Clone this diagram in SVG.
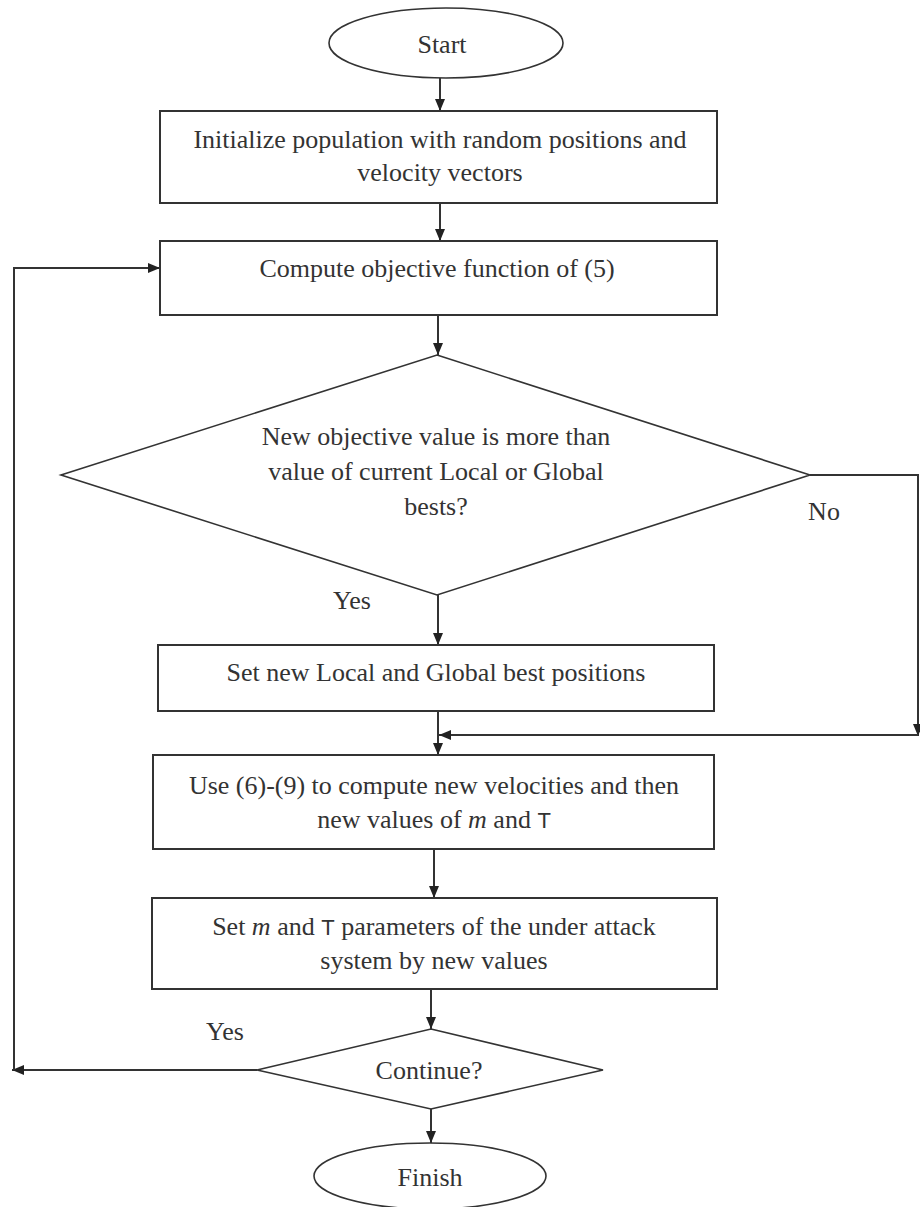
<svg xmlns="http://www.w3.org/2000/svg" width="920" height="1207" viewBox="0 0 920 1207">
<style>
.s{fill:#fff;stroke:#333;stroke-width:2}
.d{fill:#fff;stroke:#333;stroke-width:1.6}
.t{font-family:"Liberation Serif","Times New Roman",serif;font-size:26px;fill:#333;text-anchor:middle}
.c{fill:none;stroke:#333;stroke-width:2}
.ts{font-family:"Liberation Sans",Arial,sans-serif;font-style:normal;font-size:22px}
</style>
<defs>
<marker id="ah" viewBox="0 0 12 12" refX="12" refY="6" markerWidth="12" markerHeight="12" markerUnits="userSpaceOnUse" orient="auto">
<path d="M0,1 L12,6 L0,11 Z" fill="#222"/>
</marker>
</defs>
<rect width="920" height="1207" fill="#fff"/>
<g id="connectors">
<line class="c" x1="440" y1="78" x2="440" y2="111" marker-end="url(#ah)"/>
<line class="c" x1="440" y1="203" x2="440" y2="241" marker-end="url(#ah)"/>
<line class="c" x1="438" y1="315" x2="438" y2="355" marker-end="url(#ah)"/>
<line class="c" x1="438" y1="595" x2="438" y2="645" marker-end="url(#ah)"/>
<line class="c" x1="438" y1="711" x2="438" y2="755" marker-end="url(#ah)"/>
<polyline class="c" points="810,475 918,475 918,736" marker-end="url(#ah)"/>
<line class="c" x1="918" y1="735" x2="439" y2="735" marker-end="url(#ah)"/>
<line class="c" x1="434" y1="849" x2="434" y2="898" marker-end="url(#ah)"/>
<line class="c" x1="431" y1="989" x2="431" y2="1029" marker-end="url(#ah)"/>
<line class="c" x1="431" y1="1109" x2="431" y2="1143" marker-end="url(#ah)"/>
<line class="c" x1="257" y1="1070" x2="12" y2="1070" marker-end="url(#ah)"/>
<polyline class="c" points="14,1070 14,268 160,268" marker-end="url(#ah)"/>
<text class="t" x="352" y="609">Yes</text>
<text class="t" x="824" y="520">No</text>
<text class="t" x="225" y="1040">Yes</text>
</g>
<g id="start">
<ellipse class="d" cx="446" cy="43" rx="117" ry="35"/>
<text class="t" x="442" y="53">Start</text>
</g>
<g id="init">
<rect class="s" x="160" y="111" width="557" height="92"/>
<text class="t" x="440" y="148">Initialize population with random positions and</text>
<text class="t" x="440" y="181">velocity vectors</text>
</g>
<g id="compute">
<rect class="s" x="160" y="241" width="557" height="74"/>
<text class="t" x="437" y="277">Compute objective function of (5)</text>
</g>
<g id="decision1">
<polygon class="d" points="437,355 810,475 437,595 61,475"/>
<text class="t" x="436" y="445">New objective value is more than</text>
<text class="t" x="436" y="480">value of current Local or Global</text>
<text class="t" x="436" y="515">bests?</text>
</g>
<g id="setbest">
<rect class="s" x="158" y="645" width="556" height="66"/>
<text class="t" x="436" y="681">Set new Local and Global best positions</text>
</g>
<g id="update">
<rect class="s" x="153" y="755" width="561" height="94"/>
<text class="t" x="434" y="794">Use (6)-(9) to compute new velocities and then</text>
<text class="t" x="434" y="828">new values of <tspan font-style="italic">m</tspan> and <tspan class="ts">T</tspan></text>
</g>
<g id="setparams">
<rect class="s" x="152" y="898" width="565" height="91"/>
<text class="t" x="434" y="935">Set <tspan font-style="italic">m</tspan> and <tspan class="ts">T</tspan> parameters of the under attack</text>
<text class="t" x="434" y="969">system by new values</text>
</g>
<g id="continue">
<polygon class="d" points="431,1029 603,1070 431,1109 257,1070"/>
<text class="t" x="429" y="1079">Continue?</text>
</g>
<g id="finish">
<ellipse class="d" cx="430" cy="1176" rx="116" ry="33"/>
<text class="t" x="430" y="1186">Finish</text>
</g>
</svg>
